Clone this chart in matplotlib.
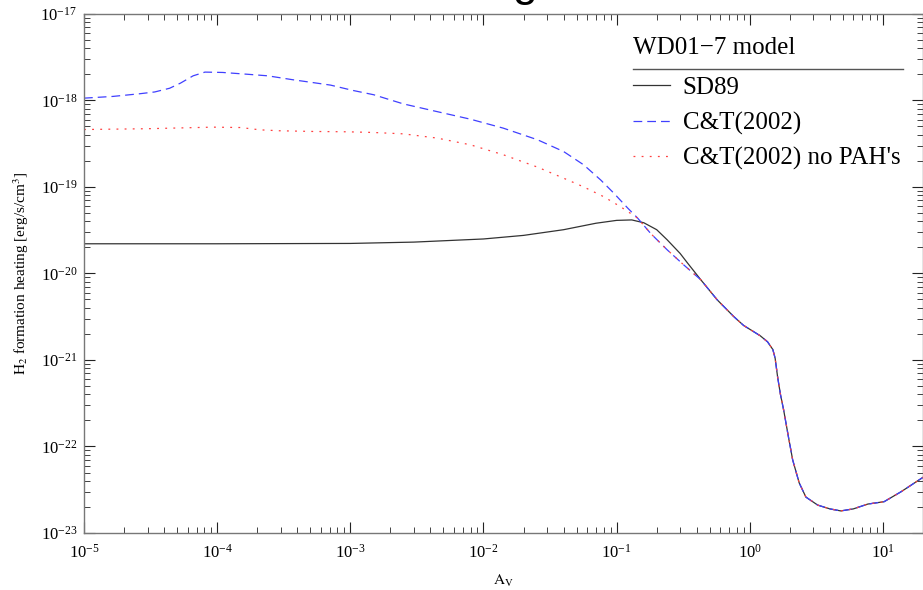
import numpy as np
import matplotlib as mpl
mpl.use('Agg')
import matplotlib.pyplot as plt

plt.rcParams['font.family'] = ['Liberation Serif', 'DejaVu Serif']
plt.rcParams['mathtext.fontset'] = 'stix'

# SD89 (black), head part before curves merge
av_sd89 = [1e-5, 1e-4, 1e-3, 3e-3, 1e-2, 2e-2, 4e-2, 7e-2, 0.1, 0.13, 0.16,
           0.2, 0.24, 0.3, 0.342]
heat_sd89 = [2.2e-20, 2.2e-20, 2.22e-20, 2.3e-20, 2.5e-20, 2.75e-20, 3.2e-20,
             3.8e-20, 4.1e-20, 4.15e-20, 3.85e-20, 3.2e-20, 2.44e-20,
             1.7e-20, 1.31e-20]

# C&T(2002) (blue dashed)
av_ct = [1e-5, 1.65e-5, 2.6e-5, 3.4e-5, 4.4e-5, 5.3e-5, 6.6e-5, 8.1e-5,
         1.1e-4, 1.7e-4, 2.4e-4, 3.7e-4, 5.3e-4, 7.1e-4, 1.05e-3, 1.5e-3,
         2.5e-3, 4.5e-3, 8e-3, 1.41e-2, 2.55e-2, 4e-2, 5.65e-2, 7.6e-2,
         9.5e-2, 0.121, 0.144, 0.18, 0.24, 0.32]
heat_ct = [1.06e-18, 1.11e-18, 1.19e-18, 1.25e-18, 1.38e-18, 1.58e-18,
           1.92e-18, 2.12e-18, 2.1e-18, 2.0e-18, 1.92e-18, 1.73e-18, 1.6e-18,
           1.5e-18, 1.3e-18, 1.16e-18, 9.1e-19, 7.4e-19, 6.05e-19, 4.77e-19,
           3.5e-19, 2.56e-19, 1.8e-19, 1.2e-19, 8.5e-20, 5.7e-20, 4.35e-20,
           2.9e-20, 1.87e-20, 1.25e-20]

# C&T(2002) no PAH's (red dotted)
av_ct_nopah = [1e-5, 3e-5, 5.3e-5, 9.3e-5, 1.5e-4, 2.1e-4, 2.95e-4, 5.2e-4,
               9.5e-4, 1.5e-3, 2.5e-3, 4.5e-3, 8e-3, 1.41e-2, 2.55e-2, 4e-2,
               5.65e-2, 8e-2, 0.107, 0.144, 0.18, 0.24, 0.32]
heat_ct_nopah = [4.6e-19, 4.7e-19, 4.8e-19, 4.9e-19, 4.85e-19, 4.56e-19,
                 4.45e-19, 4.37e-19, 4.33e-19, 4.25e-19, 4.1e-19, 3.66e-19,
                 3.06e-19, 2.35e-19, 1.69e-19, 1.26e-19, 1.0e-19, 7.7e-20,
                 5.9e-20, 4.35e-20, 2.9e-20, 1.87e-20, 1.25e-20]

# shared tail, all three models coincide here
av_tail = [0.43, 0.57, 0.76, 0.9, 1.02, 1.2, 1.36, 1.49, 1.55, 1.62, 1.7,
           1.8, 1.95, 2.1, 2.35, 2.64, 3.24, 4.0, 4.83, 6.0, 7.7, 10.2, 13.7,
           20.0]
heat_tail = [8.4e-21, 4.94e-21, 3.16e-21, 2.5e-21, 2.22e-21, 1.9e-21,
             1.62e-21, 1.32e-21, 1.05e-21, 6.3e-22, 4.0e-22, 2.6e-22, 1.3e-22,
             7e-23, 3.8e-23, 2.6e-23, 2.1e-23, 1.9e-23, 1.8e-23, 1.9e-23,
             2.16e-23, 2.3e-23, 3.0e-23, 4.4e-23]

labels = ['SD89', 'C&T(2002)', "C&T(2002) no PAH's"]
legend_title = 'WD01\u22127 model'

fig = plt.figure(figsize=(9.23, 5.9), dpi=100)
ax = fig.add_axes([0.091, 0.0966, 0.909, 0.88])

ax.plot(av_sd89 + av_tail, heat_sd89 + heat_tail, color='#333333', lw=0.9,
        label=labels[0])
ax.plot(av_ct + av_tail, heat_ct + heat_tail, color='#4040ff', lw=0.9,
        dashes=(7, 4), label=labels[1])
ax.plot(av_ct_nopah + av_tail, heat_ct_nopah + heat_tail, color='#ff4040',
        lw=0.9, dashes=(1.5, 5), label=labels[2])

ax.set_xscale('log')
ax.set_yscale('log')
ax.set_xlim(1e-5, 20)
ax.set_ylim(1e-23, 1e-17)

ax.tick_params(which='both', direction='in', top=True, right=True,
               labelsize=12, color='#222222')
ax.tick_params(which='major', length=8, width=0.8)
ax.tick_params(axis='y', which='major', pad=5)
ax.tick_params(axis='x', which='major', pad=8)
ax.tick_params(which='minor', length=4, width=0.6)
ax.xaxis.set_minor_locator(mpl.ticker.LogLocator(base=10, subs=np.arange(2, 10), numticks=20))
ax.yaxis.set_minor_locator(mpl.ticker.LogLocator(base=10, subs=np.arange(2, 10), numticks=20))
for s in ax.spines.values():
    s.set_color('#777777')
    s.set_linewidth(1.0)

ax.set_xlabel(r'$\mathrm{A_V}$', fontsize=11, labelpad=8)
ax.set_ylabel(r'$\mathrm{H_2}$ formation heating [erg/s/cm$^3$]', fontsize=11,
              labelpad=7)

leg = ax.legend(loc='upper left', bbox_to_anchor=(0.654, 0.879), frameon=False,
                fontsize=18, handlelength=1.5, handletextpad=0.5,
                labelspacing=0.5, borderpad=0, borderaxespad=0)
ax.text(0.654, 0.934, legend_title, transform=ax.transAxes, fontsize=18,
        va='center', ha='left')
# rule under the legend title
ax.plot([0.654, 0.976], [0.894, 0.894], transform=ax.transAxes,
        color='#555555', lw=1.0, clip_on=False)

# bottom of the slide title, cut off by the frame
fig.text(0.568, 1.006, 'g', fontsize=32, family='Liberation Sans',
         ha='center', va='baseline')

fig.savefig('out.png', dpi=100)
